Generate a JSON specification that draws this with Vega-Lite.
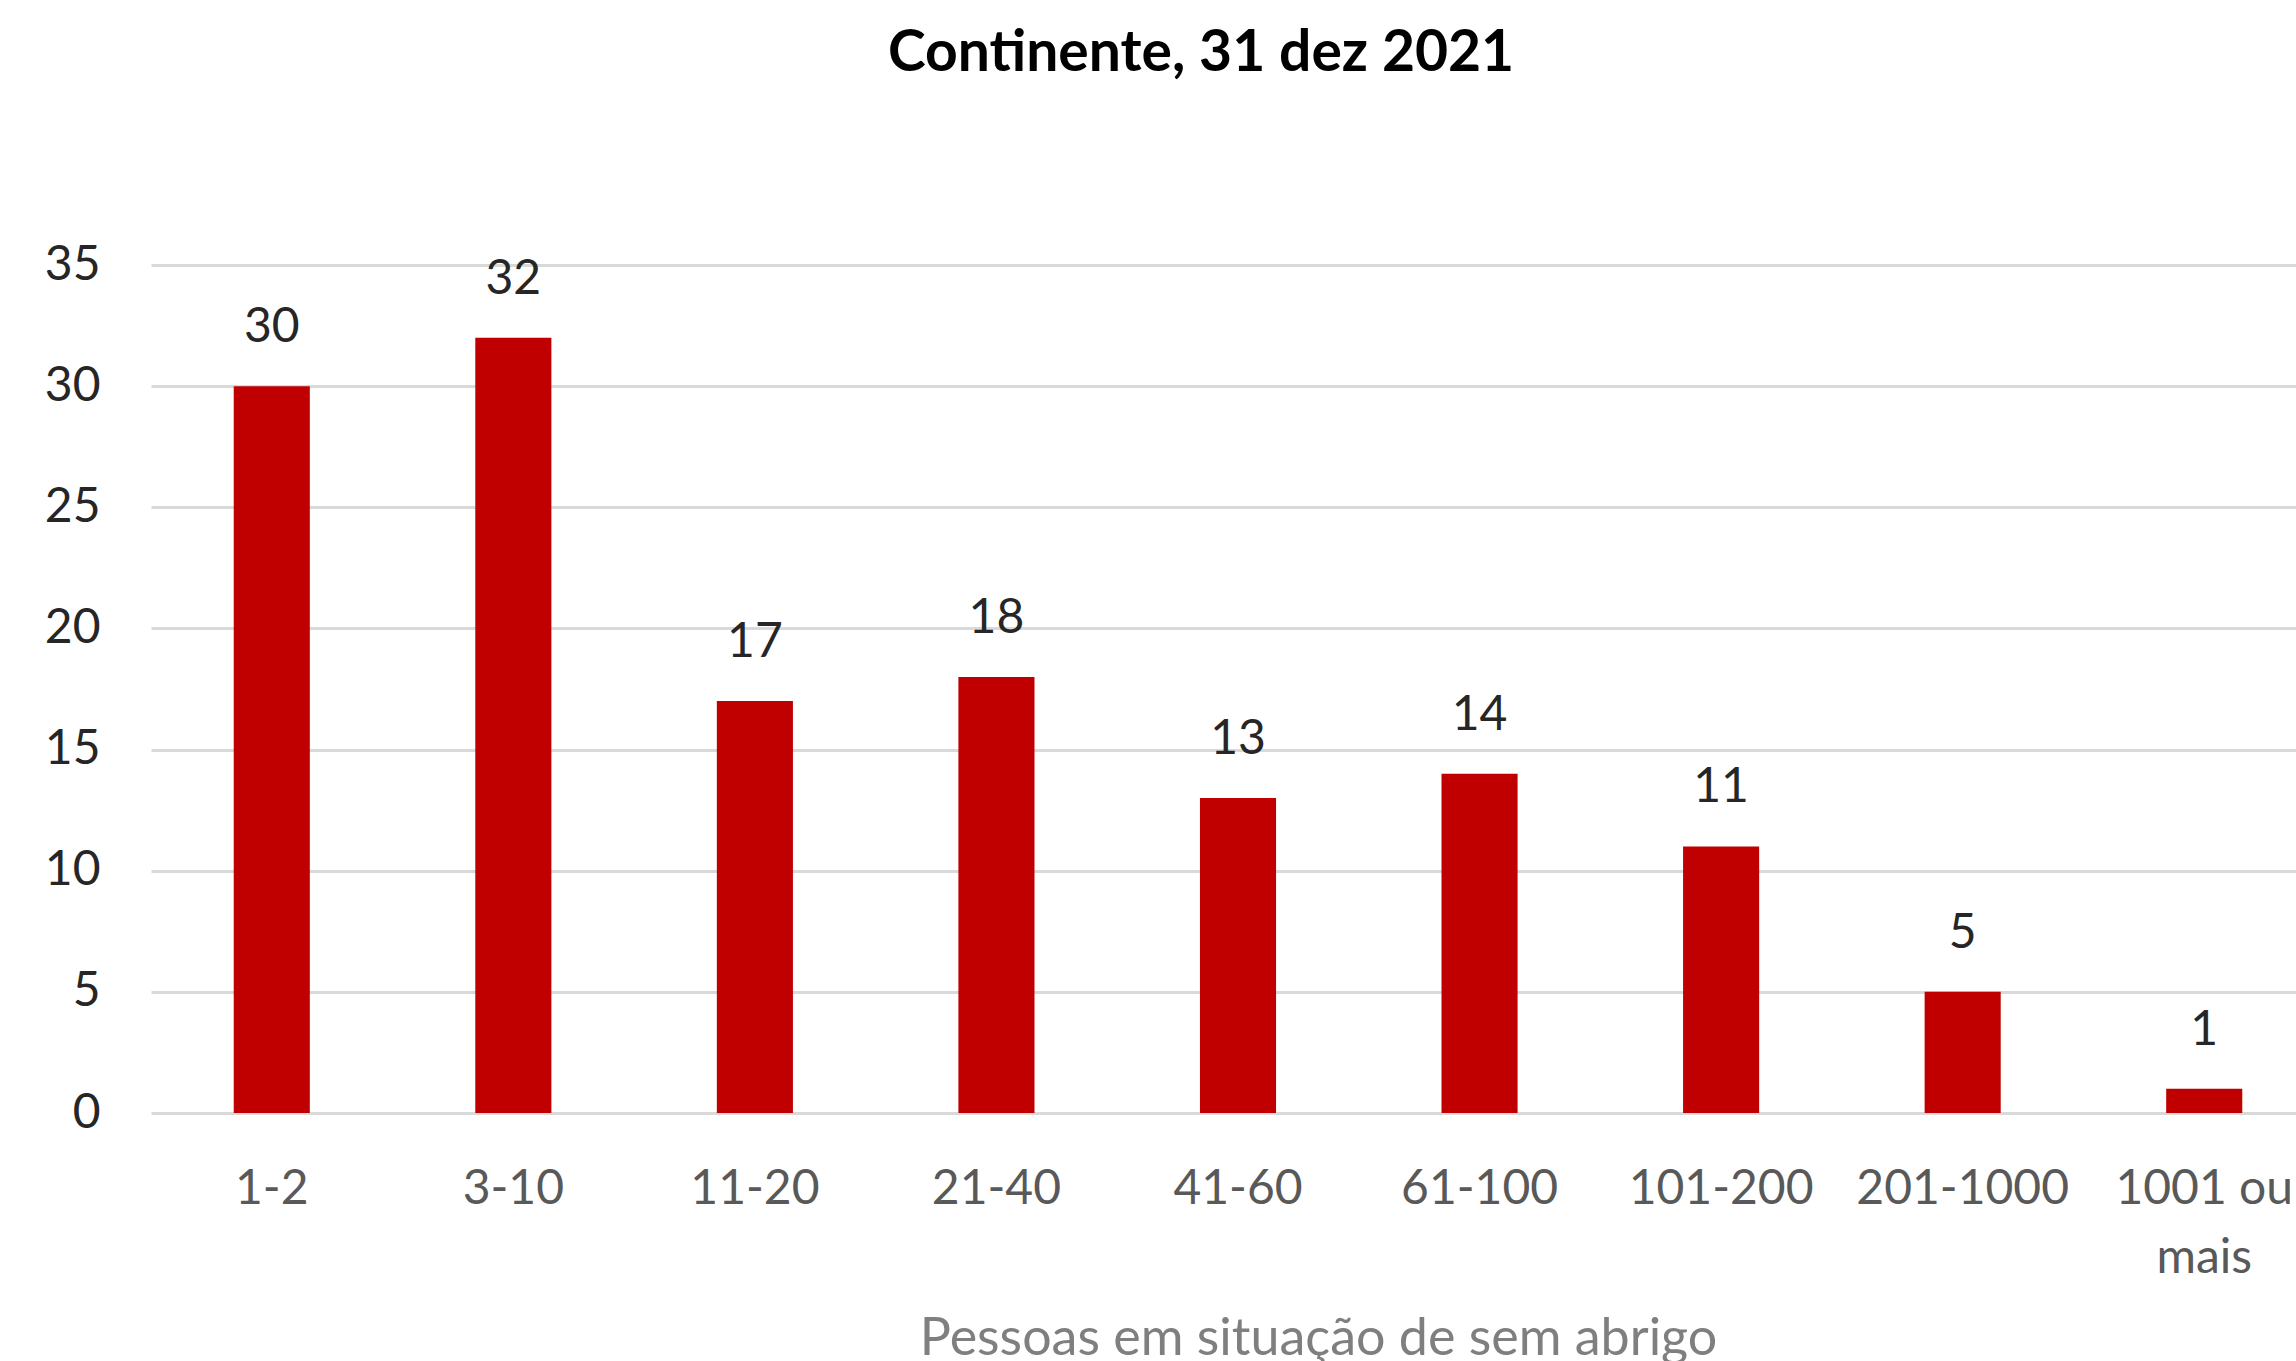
{
  "$schema": "https://vega.github.io/schema/vega-lite/v6.json",
  "autosize": {"type": "none"},
  "width": 2174,
  "height": 848,
  "padding": {"left": 151, "top": 265, "right": 0, "bottom": 248},
  "background": "white",
  "title": {
    "text": "Continente, 31 dez 2021",
    "font": "Lato",
    "fontSize": 57,
    "fontWeight": "bold",
    "color": "#000000",
    "anchor": "middle",
    "frame": "group",
    "dx": -37,
    "offset": 158
  },
  "data": {
    "values": [
      {"grupo": "1-2", "n": 30},
      {"grupo": "3-10", "n": 32},
      {"grupo": "11-20", "n": 17},
      {"grupo": "21-40", "n": 18},
      {"grupo": "41-60", "n": 13},
      {"grupo": "61-100", "n": 14},
      {"grupo": "101-200", "n": 11},
      {"grupo": "201-1000", "n": 5},
      {"grupo": "1001 ou mais", "n": 1}
    ]
  },
  "config": {
    "view": {"stroke": null},
    "font": "Lato"
  },
  "encoding": {
    "x": {
      "field": "grupo",
      "type": "nominal",
      "sort": null,
      "scale": {"paddingInner": 0.685, "paddingOuter": 0.3425},
      "axis": {
        "title": "Pessoas em situação de sem abrigo",
        "titleFont": "Lato",
        "titleFontSize": 52,
        "titleFontWeight": "normal",
        "titleColor": "#7f7f7f",
        "titleX": 1167,
        "titleY": 225,
        "titleBaseline": "middle",
        "labelAngle": 0,
        "labelFont": "Lato",
        "labelFontSize": 48,
        "labelColor": "#595959",
        "labelPadding": 76,
        "labelBaseline": "middle",
        "labelLineHeight": 69,
        "labelLimit": 0,
        "labelOverlap": false,
        "labelExpr": "datum.value == '1001 ou mais' ? ['1001 ou', 'mais'] : datum.value",
        "domain": false,
        "ticks": false,
        "grid": false
      }
    },
    "y": {
      "field": "n",
      "type": "quantitative",
      "scale": {"domain": [0, 35], "nice": false},
      "axis": {
        "title": null,
        "values": [0, 5, 10, 15, 20, 25, 30, 35],
        "labelFont": "Lato",
        "labelFontSize": 48,
        "labelColor": "#262626",
        "labelPadding": 51,
        "domain": false,
        "ticks": false,
        "grid": true,
        "gridColor": "#d9d9d9",
        "gridWidth": 3
      }
    }
  },
  "layer": [
    {
      "mark": {"type": "bar", "color": "#c00000"}
    },
    {
      "mark": {"type": "text", "font": "Lato", "fontSize": 48, "color": "#262626", "baseline": "middle", "dy": -58},
      "encoding": {"text": {"field": "n", "type": "quantitative"}}
    }
  ]
}
